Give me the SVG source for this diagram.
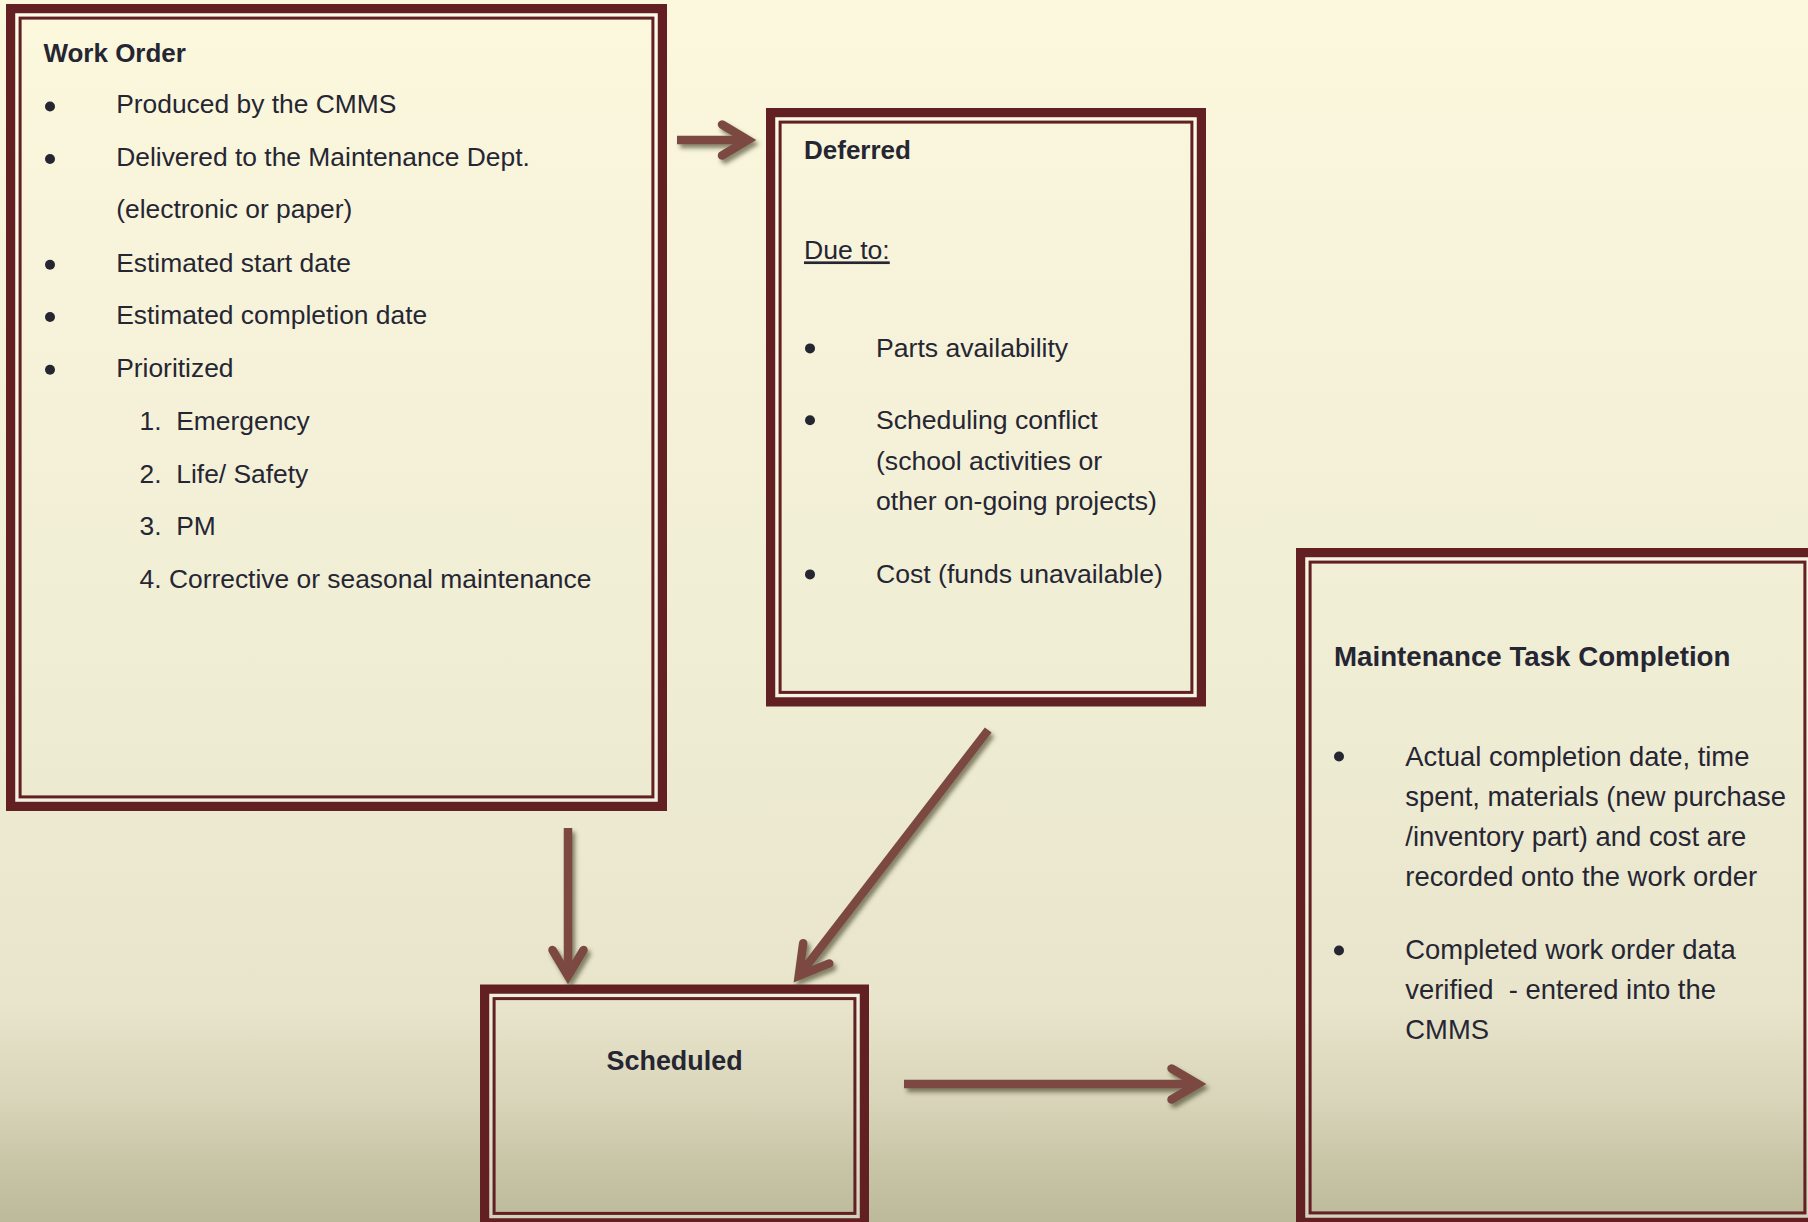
<svg xmlns="http://www.w3.org/2000/svg" width="1808" height="1222" viewBox="0 0 1808 1222">
<defs>
<linearGradient id="bg" x1="0" y1="0" x2="0" y2="1">
<stop offset="0" stop-color="#fbf8de"/>
<stop offset="0.55" stop-color="#f0edd5"/>
<stop offset="0.82" stop-color="#e8e5cc"/>
<stop offset="0.9" stop-color="#d8d5ba"/>
<stop offset="0.95" stop-color="#c9c6a8"/>
<stop offset="1" stop-color="#bcba9a"/>
</linearGradient>
<filter id="shadow" filterUnits="userSpaceOnUse" x="0" y="0" width="1808" height="1222">
<feDropShadow dx="3" dy="4" stdDeviation="2.2" flood-color="#3b3a22" flood-opacity="0.6"/>
</filter>
<style>
.thick{fill:none;stroke:#622022;stroke-width:9.3}
.gap{fill:none;stroke:#ffffff;stroke-opacity:0.35;stroke-width:3.3}
.thin{fill:none;stroke:#622022;stroke-width:3}
.t{font-family:"Liberation Sans",Arial,sans-serif;fill:#262633}
.b{font-weight:bold}
.wo{font-size:26.4px}
.df{font-size:26.6px}
.mt{font-size:27.4px}
.dot{fill:#262633}
.arrow{fill:none;stroke:#7b4a42;stroke-width:8.5;stroke-linejoin:miter;stroke-miterlimit:4}
.shaft{stroke-linecap:butt}
.head{stroke-linecap:round}
</style>
</defs>
<rect x="0" y="0" width="1808" height="1222" fill="url(#bg)"/>

<g id="node-work-order">
<rect class="thick" x="10.65" y="8.65" width="651.7" height="797.7"/>
<rect class="gap" x="16.95" y="14.95" width="639.1" height="785.1"/>
<rect class="thin" x="20.1" y="18.1" width="632.8" height="778.8"/>
<text class="t b" x="43.4" y="61.7" font-size="26px">Work Order</text>
<circle class="dot" cx="50" cy="106.5" r="5"/>
<text class="t wo" x="116.2" y="113.3">Produced by the CMMS</text>
<circle class="dot" cx="50" cy="159" r="5"/>
<text class="t wo" x="116.2" y="166">Delivered to the Maintenance Dept.</text>
<text class="t wo" x="116.2" y="218.3">(electronic or paper)</text>
<circle class="dot" cx="50" cy="264.7" r="5"/>
<text class="t wo" x="116.2" y="271.7">Estimated start date</text>
<circle class="dot" cx="50" cy="317" r="5"/>
<text class="t wo" x="116.2" y="324">Estimated completion date</text>
<circle class="dot" cx="50" cy="369.7" r="5"/>
<text class="t wo" x="116.2" y="376.7">Prioritized</text>
<text class="t wo" x="139.6" y="430" xml:space="preserve">1.  Emergency</text>
<text class="t wo" x="139.6" y="482.7" xml:space="preserve">2.  Life/ Safety</text>
<text class="t wo" x="139.6" y="535" xml:space="preserve">3.  PM</text>
<text class="t wo" x="139.6" y="588.3">4. Corrective or seasonal maintenance</text>
</g>

<g id="node-deferred">
<rect class="thick" x="770.65" y="112.65" width="430.7" height="589.2"/>
<rect class="gap" x="776.95" y="118.95" width="418.1" height="576.6"/>
<rect class="thin" x="780.1" y="122.1" width="411.8" height="570.3"/>
<text class="t b" x="804" y="159.4" font-size="26px">Deferred</text>
<text class="t df" x="804" y="259.4" text-decoration="underline">Due to:</text>
<circle class="dot" cx="810" cy="348.4" r="5"/>
<text class="t df" x="876" y="357">Parts availability</text>
<circle class="dot" cx="810" cy="420.2" r="5"/>
<text class="t df" x="876" y="428.8">Scheduling conflict</text>
<text class="t df" x="876" y="469.6">(school activities or</text>
<text class="t df" x="876" y="509.6">other on-going projects)</text>
<circle class="dot" cx="810" cy="574.4" r="5"/>
<text class="t df" x="876" y="583">Cost (funds unavailable)</text>
</g>

<g id="node-scheduled">
<rect class="thick" x="484.65" y="989.15" width="379.7" height="233.7"/>
<rect class="gap" x="490.95" y="995.45" width="367.1" height="221.1"/>
<rect class="thin" x="494.1" y="998.6" width="360.8" height="214.8"/>
<text class="t b" x="674.6" y="1069.5" font-size="26.9px" text-anchor="middle">Scheduled</text>
</g>

<g id="node-maintenance-task-completion">
<rect class="thick" x="1300.65" y="552.65" width="513.7" height="669.7"/>
<rect class="gap" x="1306.95" y="558.95" width="501.1" height="657.1"/>
<rect class="thin" x="1310.1" y="562.1" width="494.8" height="650.8"/>
<text class="t b" x="1334" y="666" font-size="27.7px">Maintenance Task Completion</text>
<circle class="dot" cx="1339" cy="756.5" r="5"/>
<text class="t mt" x="1405.3" y="765.5">Actual completion date, time</text>
<text class="t mt" x="1405.3" y="805.5">spent, materials (new purchase</text>
<text class="t mt" x="1405.3" y="845.5">/inventory part) and cost are</text>
<text class="t mt" x="1405.3" y="885.5">recorded onto the work order</text>
<circle class="dot" cx="1339" cy="950.5" r="5"/>
<text class="t mt" x="1405.3" y="959.3">Completed work order data</text>
<text class="t mt" x="1405.3" y="999" xml:space="preserve">verified  - entered into the</text>
<text class="t mt" x="1405.3" y="1039">CMMS</text>
</g>

<g id="connectors" filter="url(#shadow)">
<g id="edge-workorder-deferred">
<path class="arrow shaft" d="M677,140 L748,140"/>
<path class="arrow head" d="M722,124.5 L748,140 L722,155.5"/>
</g>
<g id="edge-workorder-scheduled">
<path class="arrow shaft" d="M568,828 L568,976"/>
<path class="arrow head" d="M552.5,950 L568,976 L583.5,950"/>
</g>
<g id="edge-deferred-scheduled">
<path class="arrow shaft" d="M988.2,730 L798.8,975.9"/>
<path class="arrow head" d="M803.2,943.2 L798.8,975.9 L829.3,963.4"/>
</g>
<g id="edge-scheduled-maintenance">
<path class="arrow shaft" d="M904,1084 L1198,1084"/>
<path class="arrow head" d="M1171.5,1068.5 L1198,1084 L1171.5,1099.5"/>
</g>
</g>
</svg>
